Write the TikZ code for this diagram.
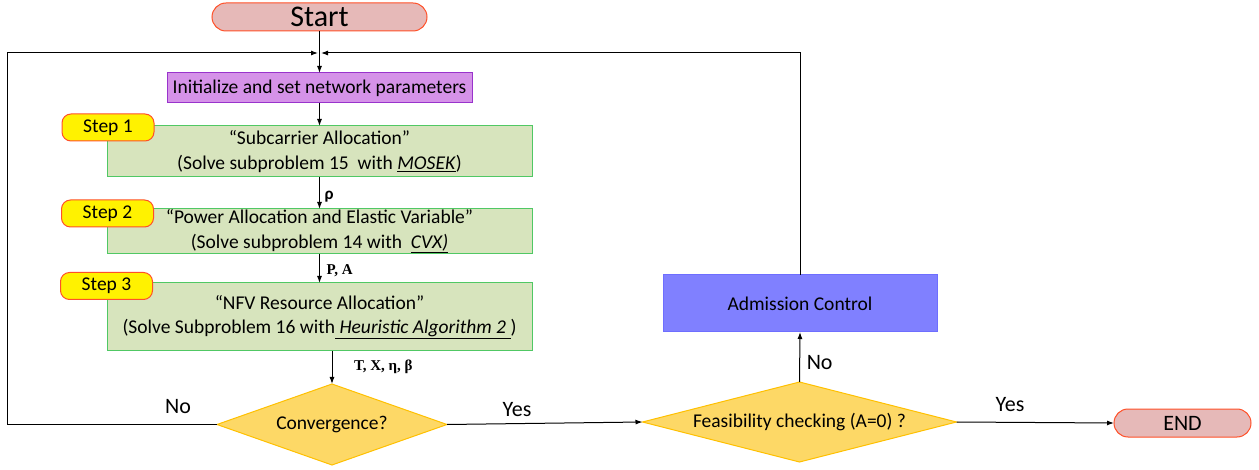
\documentclass[tikz,border=0pt]{standalone}
\usepackage{fontspec}
\setmainfont{Carlito}
\newfontfamily\timesfont{Liberation Serif}
\usetikzlibrary{shapes.geometric,arrows.meta}

\definecolor{termfill}{RGB}{230,185,184}
\definecolor{termdraw}{RGB}{255,80,40}
\definecolor{initfill}{RGB}{213,146,232}
\definecolor{initdraw}{RGB}{153,51,204}
\definecolor{stepfill}{RGB}{215,228,189}
\definecolor{stepdraw}{RGB}{80,200,100}
\definecolor{decfill}{RGB}{253,216,102}
\definecolor{decdraw}{RGB}{255,192,0}
\definecolor{admfill}{RGB}{128,128,255}
\definecolor{admdraw}{RGB}{110,110,255}

\begin{document}
\begin{tikzpicture}[
    x=1pt, y=-1pt,
    every node/.style={inner sep=0pt, outer sep=0pt},
    txt/.style={font=\fontsize{19.5}{24.5}\selectfont, align=center},
    terminal/.style={rectangle, rounded corners=14pt, draw=termdraw, fill=termfill, line width=1pt},
    process/.style={rectangle, draw=stepdraw, fill=stepfill, line width=1pt, minimum width=425pt, txt},
    tag/.style={rectangle, rounded corners=9pt, draw=termdraw, fill=yellow, line width=1pt, minimum width=92pt, minimum height=27pt, txt},
    decision/.style={diamond, draw=decdraw, fill=decfill, line width=1pt, txt},
    answer/.style={font=\fontsize{22}{22}\selectfont},
    var/.style={font=\timesfont\bfseries\fontsize{15}{15}\selectfont},
    arr/.style={-{Latex[length=7pt,width=5pt]}, line width=1pt}
]
    \useasboundingbox (0,0) rectangle (1259,470);

    % Start and init
    \node[terminal, minimum width=215pt, minimum height=28pt, font=\fontsize{30}{30}\selectfont] (start) at (319.5,17) {Start};
    \node[rectangle, draw=initdraw, fill=initfill, line width=1pt, minimum width=305pt, minimum height=30pt, txt] (init) at (319.5,88) {Initialize and set network parameters};

    % Steps
    \node[process, minimum height=51pt] (step1box) at (319.5,151.5) {``Subcarrier Allocation''\\(Solve subproblem 15~ with \underline{\textit{MOSEK}})};
    \node[process, minimum height=45pt] (step2box) at (319.5,231.5) {``Power Allocation and Elastic Variable''\\(Solve subproblem 14 with~ \underline{\textit{CVX)}}};
    \node[process, minimum height=68pt] (step3box) at (319.5,317) {``NFV Resource Allocation''\\(Solve Subproblem 16 with\underline{ \textit{Heuristic Algorithm 2} })};
    \node[tag] (step1tag) at (108,127.5) {Step 1};
    \node[tag] (step2tag) at (107.5,213.5) {Step 2};
    \node[tag] (step3tag) at (106.5,286) {Step 3};

    % Decisions
    \node[decision, aspect=2.84, minimum width=230pt, minimum height=81pt] (conv) at (332,424.5) {Convergence?};
    \node[decision, aspect=3.9, minimum width=314pt, minimum height=80pt] (feas) at (799.5,422) {Feasibility checking (A=0) ?};
    \node[rectangle, draw=admdraw, fill=admfill, line width=1pt, minimum width=274pt, minimum height=57pt, txt] (admit) at (800,303.5) {Admission Control};
    \node[terminal, minimum width=137pt, minimum height=28pt, font=\fontsize{22}{22}\selectfont] (finish) at (1182.5,423) {END};

    % Loop corners
    \coordinate (loopL) at (7,53);
    \coordinate (joinL) at (318,53);
    \coordinate (joinR) at (321,53);

    % Connectors
    \draw[arr] (start) -- (init);
    \draw[arr] (init) -- (step1box);
    \draw[arr] (step1box) -- node[right=5pt, yshift=-4pt, font=\fontsize{17}{17}\selectfont\bfseries] {ρ} (step2box);
    \draw[arr] (step2box) -- node[right=7pt, var, yshift=-2pt] {P, A} (step2box.south |- step3box.north);
    \draw[arr] (step3box.south -| conv.north) -- node[right=22pt, var, yshift=1pt] {T, X, η, β} (conv.north);
    \draw[arr] (conv.west) -| (loopL) -- (joinL);
    \draw[arr] (admit.north) |- (joinR);
    \draw[arr] (conv.east) -- (feas.west);
    \draw[arr] (feas.north) -- node[right=7pt, answer, yshift=-6pt] {No} (admit.south);
    \draw[arr] (feas.east) -- (finish.west);

    % Answers
    \node[answer] (convno) at (178,407) {No};
    \node[answer] (convyes) at (517,410) {Yes};
    \node[answer] (feasyes) at (1010,405) {Yes};
\end{tikzpicture}
\end{document}
